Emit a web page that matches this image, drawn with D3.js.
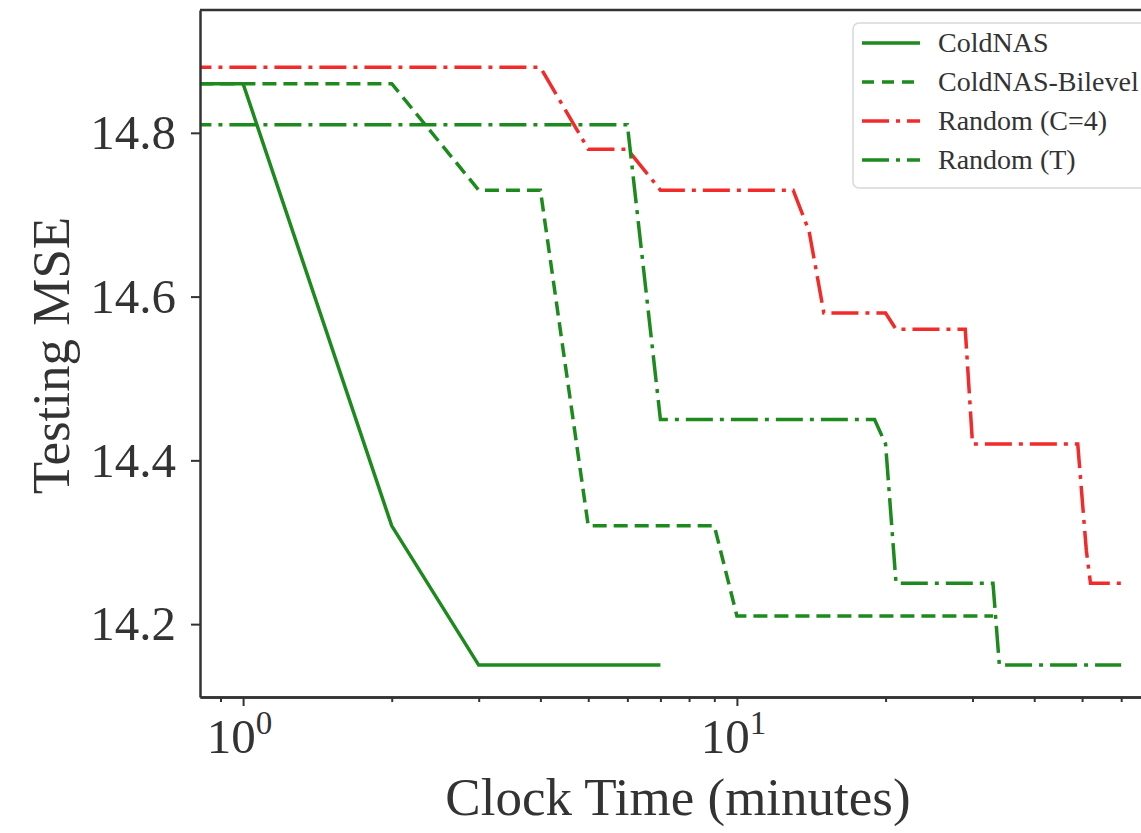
<!DOCTYPE html>
<html>
<head>
<meta charset="utf-8">
<script src="https://cdn.jsdelivr.net/npm/d3@7"></script>
<style>
  body { margin: 0; background: #fff; }
  text { font-family: "Liberation Serif", "DejaVu Serif", serif; fill: #333; }
</style>
</head>
<body>
<div id="chart"></div>
<script>
// data (minutes, testing MSE)
var coldTime = [0.5, 1, 2, 3, 4, 5, 6, 7];
var coldMse = [14.86, 14.86, 14.32, 14.15, 14.15, 14.15, 14.15, 14.15];

var bilevelTime = [0.5, 2, 3, 4, 5, 9, 10, 33];
var bilevelMse = [14.86, 14.86, 14.73, 14.73, 14.32, 14.32, 14.21, 14.21];

var randCTime = [0.5, 4, 5, 6, 7, 13, 14, 15, 20, 21, 29, 30, 49, 51, 52, 60];
var randCMse = [14.88, 14.88, 14.78, 14.78, 14.73, 14.73, 14.68, 14.58, 14.58, 14.56, 14.56, 14.42, 14.42, 14.29, 14.25, 14.25];

var randTTime = [0.5, 6, 7, 19, 20, 21, 33, 34, 60];
var randTMse = [14.81, 14.81, 14.45, 14.45, 14.42, 14.25, 14.25, 14.15, 14.15];

var seriesNames = ["ColdNAS", "ColdNAS-Bilevel", "Random (C=4)", "Random (T)"];

var yTicks = [14.2, 14.4, 14.6, 14.8];
var xMajor = [1, 10];
var xMinor = [0.9, 2, 3, 4, 5, 6, 7, 8, 9, 20, 30, 40, 50, 60, 70];

var svgWidth = 1141;
var svgHeight = 833;
var margin = { top: 10, left: 200 };
var width = 965;   // right spine falls just outside the picture
var height = 687;

var svg = d3.select("#chart")
  .append("svg")
  .attr("width", svgWidth)
  .attr("height", svgHeight);

var chartGroup = svg.append("g")
  .attr("transform", `translate(${margin.left}, ${margin.top})`);

// scales
var x = d3.scaleLog()
  .domain([0.818, 73.6])
  .range([0, width]);

var y = d3.scaleLinear()
  .domain([14.111, 14.95])
  .range([height, 0]);

chartGroup.append("clipPath")
  .attr("id", "plotClip")
  .append("rect")
  .attr("width", width)
  .attr("height", height);

// lines
var green = "#1d8a1d";
var red = "#f22a2a";
var series = [
  { name: seriesNames[0], t: coldTime, v: coldMse, color: green, dash: null },
  { name: seriesNames[1], t: bilevelTime, v: bilevelMse, color: green, dash: "14,7" },
  { name: seriesNames[2], t: randCTime, v: randCMse, color: red, dash: "27,7,4,7" },
  { name: seriesNames[3], t: randTTime, v: randTMse, color: green, dash: "27,7,4,7" }
];

var line = d3.line()
  .x(d => x(d[0]))
  .y(d => y(d[1]));

var lineGroup = chartGroup.append("g").attr("clip-path", "url(#plotClip)");

series.forEach(function(s) {
  lineGroup.append("path")
    .datum(d3.zip(s.t, s.v))
    .attr("d", line)
    .attr("fill", "none")
    .attr("stroke", s.color)
    .attr("stroke-width", 3.5)
    .attr("stroke-dasharray", s.dash);
});

// axes
var yAxis = d3.axisLeft(y)
  .tickValues(yTicks)
  .tickFormat(d3.format(".1f"))
  .tickSize(9)
  .tickSizeOuter(0)
  .tickPadding(15);

var yG = chartGroup.append("g").call(yAxis);
yG.selectAll("text").attr("font-size", "49px").attr("font-family", null);

chartGroup.append("g")
  .attr("transform", `translate(0, ${height})`)
  .call(d3.axisBottom(x).tickValues(xMinor).tickSize(5).tickSizeOuter(0).tickFormat(""));

var xG = chartGroup.append("g")
  .attr("transform", `translate(0, ${height})`)
  .call(d3.axisBottom(x).tickValues(xMajor).tickSize(9).tickSizeOuter(0).tickFormat(""));

xG.selectAll(".tick").append("text")
  .attr("y", 56)
  .attr("x", -4)
  .attr("text-anchor", "middle")
  .attr("font-size", "49px")
  .each(function(d) {
    var t = d3.select(this);
    t.append("tspan").text("10");
    t.append("tspan")
      .attr("font-size", "33px")
      .attr("dy", -19)
      .text(Math.round(Math.log10(d)));
  });

svg.selectAll(".domain, .tick line")
  .attr("stroke", "#333");
svg.selectAll(".domain").attr("stroke-width", 2.5);
svg.selectAll(".tick line").attr("stroke-width", 2);

// top spine
chartGroup.append("line")
  .attr("x1", 0)
  .attr("x2", width)
  .attr("stroke", "#333")
  .attr("stroke-width", 2.5);

// axis labels
chartGroup.append("text")
  .attr("x", 478)
  .attr("y", height + 118)
  .attr("text-anchor", "middle")
  .attr("font-size", "53px")
  .text("Clock Time (minutes)");

chartGroup.append("text")
  .attr("transform", "rotate(-90)")
  .attr("x", -(height / 2) - 2)
  .attr("y", -131)
  .attr("text-anchor", "middle")
  .attr("font-size", "53px")
  .text("Testing MSE");

// legend
var legend = svg.append("g").attr("transform", "translate(853, 23)");

legend.append("rect")
  .attr("width", 320)
  .attr("height", 165)
  .attr("rx", 6)
  .attr("fill", "#fff")
  .attr("fill-opacity", 0.85)
  .attr("stroke", "#d8d8d8")
  .attr("stroke-width", 1.5);

series.forEach(function(s, i) {
  var row = legend.append("g")
    .attr("transform", `translate(0, ${20 + i * 39})`);
  row.append("line")
    .attr("x1", 9)
    .attr("x2", 67)
    .attr("stroke", s.color)
    .attr("stroke-width", 3.5)
    .attr("stroke-dasharray", s.dash === "14,7" ? "12,8" : s.dash);
  row.append("text")
    .attr("x", 85)
    .attr("y", 9)
    .attr("font-size", "28px")
    .attr("fill", "#444")
    .text(s.name);
});
</script>
</body>
</html>
